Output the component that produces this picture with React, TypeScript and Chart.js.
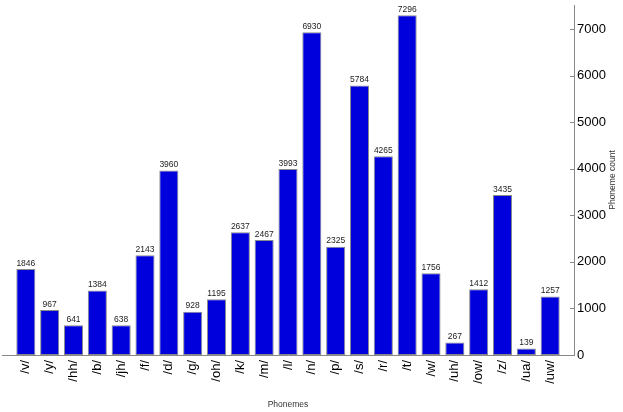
import React, { useEffect, useRef } from "react";
import { Chart, registerables } from "chart.js";

Chart.register(...registerables);

const categories = ["/v/", "/y/", "/hh/", "/b/", "/jh/", "/f/", "/d/", "/g/", "/oh/", "/k/", "/m/", "/l/", "/n/", "/p/", "/s/", "/r/", "/t/", "/w/", "/uh/", "/ow/", "/z/", "/ua/", "/uw/"];
const counts = [1846, 967, 641, 1384, 638, 2143, 3960, 928, 1195, 2637, 2467, 3993, 6930, 2325, 5784, 4265, 7296, 1756, 267, 1412, 3435, 139, 1257];
const yTicks = [0, 1000, 2000, 3000, 4000, 5000, 6000, 7000];
const xTitle = "Phonemes";
const yTitle = "Phoneme count";

const FONT = "'Liberation Sans', Arial, sans-serif";

const customPlugin = {
  id: "custom",
  afterDatasetsDraw(chart: any) {
    const ctx = chart.ctx;
    const meta = chart.getDatasetMeta(0);
    ctx.save();
    ctx.font = `8.5px ${FONT}`;
    ctx.fillStyle = "#222";
    ctx.textAlign = "center";
    ctx.textBaseline = "bottom";
    meta.data.forEach((el: any, i: number) => {
      ctx.fillText(String(counts[i]), el.x, el.y - 1.5);
    });
    ctx.restore();
  },
  afterDraw(chart: any) {
    const ctx = chart.ctx;
    const y = chart.scales.y;
    const area = chart.chartArea;
    ctx.save();
    ctx.strokeStyle = "#888";
    ctx.lineWidth = 1;
    yTicks.forEach((t) => {
      const py = Math.round(y.getPixelForValue(t)) + 0.5;
      ctx.beginPath();
      ctx.moveTo(area.right - 4, py);
      ctx.lineTo(area.right, py);
      ctx.stroke();
    });
    ctx.fillStyle = "#333";
    ctx.font = `8.5px ${FONT}`;
    ctx.textAlign = "center";
    ctx.textBaseline = "middle";
    ctx.translate(612.5, (area.top + area.bottom) / 2);
    ctx.rotate(-Math.PI / 2);
    ctx.fillText(yTitle, 0, 0);
    ctx.restore();
  },
};

export default function App() {
  const ref = useRef<HTMLCanvasElement | null>(null);
  useEffect(() => {
    if (!ref.current) return;
    const chart = new Chart(ref.current, {
      type: "bar",
      data: {
        datasets: [
          {
            data: counts.map((v, i) => ({ x: i, y: v })),
            backgroundColor: "#0000dd",
            borderColor: "#8a8a8a",
            borderWidth: 1,
            borderSkipped: false,
            barPercentage: 0.8,
            categoryPercentage: 1,
          },
        ],
      },
      options: {
        animation: false,
        responsive: true,
        maintainAspectRatio: false,
        layout: { padding: { top: 5, left: 2, right: 0, bottom: 0 } },
        plugins: { legend: { display: false }, tooltip: { enabled: false } },
        scales: {
          x: {
            type: "linear",
            offset: false,
            min: -1,
            max: 23,
            grid: { display: false, offset: false, drawTicks: false, tickLength: 0 },
            border: { display: true, color: "#888", width: 1 },
            ticks: {
              stepSize: 1,
              maxTicksLimit: 100,
              autoSkip: false,
              minRotation: 90,
              maxRotation: 90,
              padding: 5,
              color: "#000",
              font: { family: FONT, size: 13 },
              callback: (v: any) => categories[v] ?? "",
            },
            title: {
              display: true,
              text: xTitle,
              color: "#333",
              font: { family: FONT, size: 8.5 },
              padding: { top: 0, bottom: 2 },
            },
            afterFit: (s: any) => {
              s.height = 57;
              s.paddingLeft = 0;
              s.paddingRight = 0;
            },
          },
          y: {
            position: "right",
            min: 0,
            max: 7515,
            grid: { display: false, drawTicks: false, tickLength: 0 },
            border: { display: true, color: "#888", width: 1 },
            ticks: {
              padding: 3,
              color: "#000",
              font: { family: FONT, size: 13 },
              callback: (v: any) => String(v),
            },
            afterBuildTicks: (s: any) => {
              s.ticks = yTicks.map((v) => ({ value: v }));
            },
            afterFit: (s: any) => {
              s.width = 49;
              s.paddingTop = 0;
              s.paddingBottom = 0;
            },
          },
        },
      },
      plugins: [customPlugin],
    } as any);
    return () => chart.destroy();
  }, []);
  return (
    <div style={{ position: "fixed", left: 0, top: 0, width: 623, height: 412 }}>
      <canvas ref={ref} />
    </div>
  );
}
